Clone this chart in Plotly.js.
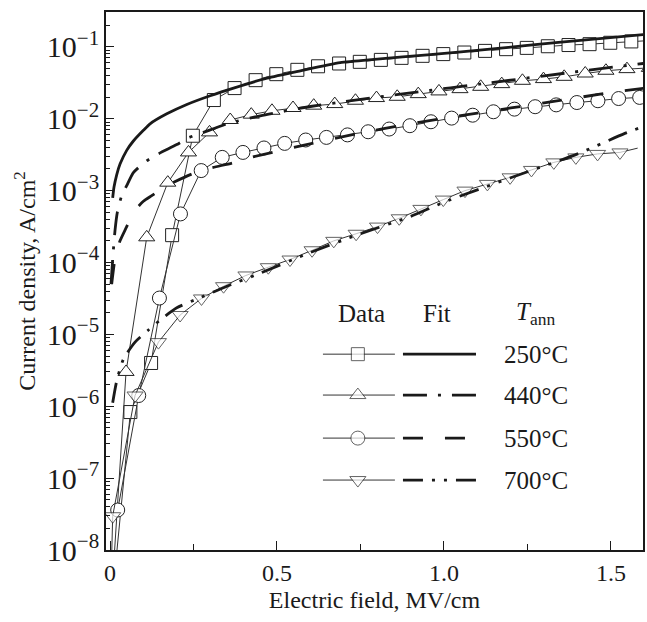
<!DOCTYPE html>
<html><head><meta charset="utf-8">
<script src="https://cdn.plot.ly/plotly-3.0.1.min.js"></script>
<style>body{margin:0;background:#fff}#chart{width:647px;height:622px}</style>
</head><body><div id="chart"></div>
<script>
// ---- data (E in MV/cm, J in A/cm^2) ----
const x250 = [0.0, 0.061, 0.123, 0.186, 0.248, 0.311, 0.373, 0.436, 0.498, 0.561, 0.623, 0.686, 0.748, 0.811, 0.873, 0.936, 0.998, 1.061, 1.123, 1.186, 1.248, 1.311, 1.373, 1.436, 1.498, 1.561, 1.623];
const j250 = [1e-9, 8.3e-7, 4.0e-6, 2.4e-4, 5.8e-3, 1.82e-2, 2.67e-2, 3.44e-2, 4.17e-2, 4.79e-2, 5.37e-2, 5.87e-2, 6.19e-2, 6.59e-2, 7.03e-2, 7.50e-2, 7.93e-2, 8.34e-2, 8.79e-2, 9.29e-2, 9.68e-2, 0.102, 0.106, 0.109, 0.114, 0.119, 0.123];

const x440 = [0.0, 0.048, 0.11, 0.173, 0.235, 0.298, 0.36, 0.423, 0.485, 0.548, 0.61, 0.673, 0.735, 0.798, 0.86, 0.923, 0.985, 1.048, 1.11, 1.173, 1.235, 1.298, 1.36, 1.423, 1.485, 1.548, 1.615];
const j440 = [1e-9, 3.0e-6, 2.24e-4, 1.29e-3, 3.40e-3, 6.46e-3, 9.6e-3, 1.14e-2, 1.29e-2, 1.41e-2, 1.52e-2, 1.60e-2, 1.78e-2, 1.94e-2, 2.02e-2, 2.20e-2, 2.40e-2, 2.58e-2, 2.78e-2, 3.03e-2, 3.37e-2, 3.56e-2, 3.83e-2, 4.26e-2, 4.65e-2, 4.90e-2, 5.1e-2];

const x550 = [0.023, 0.086, 0.148, 0.211, 0.273, 0.336, 0.398, 0.461, 0.523, 0.586, 0.648, 0.711, 0.773, 0.836, 0.898, 0.961, 1.023, 1.086, 1.148, 1.211, 1.273, 1.336, 1.398, 1.461, 1.523, 1.586];
const j550 = [3.6e-8, 1.41e-6, 3.2e-5, 4.74e-4, 1.90e-3, 2.90e-3, 3.40e-3, 3.92e-3, 4.54e-3, 5.06e-3, 5.50e-3, 5.96e-3, 6.59e-3, 7.19e-3, 8.0e-3, 9.08e-3, 1.02e-2, 1.12e-2, 1.25e-2, 1.36e-2, 1.47e-2, 1.56e-2, 1.68e-2, 1.78e-2, 1.91e-2, 1.98e-2];

const x700 = [0.0, 0.008, 0.075, 0.145, 0.21, 0.274, 0.34, 0.407, 0.474, 0.539, 0.605, 0.67, 0.737, 0.801, 0.866, 0.931, 0.998, 1.063, 1.13, 1.198, 1.262, 1.329, 1.395, 1.46, 1.527, 1.58];
const j700 = [1e-9, 2.95e-8, 1.41e-6, 7.8e-6, 1.86e-5, 3.16e-5, 4.68e-5, 6.6e-5, 8.6e-5, 1.10e-4, 1.48e-4, 2.0e-4, 2.51e-4, 3.16e-4, 4.12e-4, 5.57e-4, 7.5e-4, 1.0e-3, 1.24e-3, 1.53e-3, 1.94e-3, 2.47e-3, 2.90e-3, 3.24e-3, 3.40e-3, 3.9e-3];
// the last 700 °C reading continues the line only (no symbol drawn in the figure)
const n700Markers = 25;

// fits
const fx250 = [0.008, 0.012, 0.02, 0.03, 0.05, 0.07, 0.1, 0.12, 0.17, 0.23, 0.30, 0.37, 0.47, 0.57, 0.689, 0.8, 0.95, 1.138, 1.25, 1.4, 1.6];
const fj250 = [7.9e-4, 1.12e-3, 1.66e-3, 2.34e-3, 3.63e-3, 4.9e-3, 6.9e-3, 8.5e-3, 1.17e-2, 1.58e-2, 2.09e-2, 2.67e-2, 3.67e-2, 4.65e-2, 6.05e-2, 6.76e-2, 7.76e-2, 9.29e-2, 0.105, 0.122, 0.149];

const fx440 = [0.003, 0.008, 0.015, 0.022, 0.035, 0.05, 0.07, 0.105, 0.14, 0.2, 0.234, 0.28, 0.35, 0.45, 0.6, 0.689, 0.9, 1.138, 1.39, 1.6];
const fj440 = [5.0e-5, 1.12e-4, 2.8e-4, 5.0e-4, 8.5e-4, 1.17e-3, 1.78e-3, 2.5e-3, 3.16e-3, 4.37e-3, 5.4e-3, 6.46e-3, 8.5e-3, 1.10e-2, 1.48e-2, 1.70e-2, 2.29e-2, 3.16e-2, 4.47e-2, 5.9e-2];

const fx550 = [0.005, 0.015, 0.03, 0.05, 0.07, 0.1, 0.125, 0.17, 0.245, 0.29, 0.37, 0.42, 0.55, 0.739, 0.9, 1.1, 1.3, 1.522, 1.6];
const fj550 = [5.0e-5, 1.12e-4, 2.0e-4, 3.16e-4, 5.0e-4, 7.1e-4, 8.5e-4, 1.17e-3, 1.70e-3, 2.0e-3, 2.45e-3, 2.88e-3, 3.98e-3, 6.17e-3, 8.5e-3, 1.20e-2, 1.66e-2, 2.40e-2, 2.66e-2];

const fx700 = [0.008, 0.02, 0.04, 0.075, 0.115, 0.15, 0.2, 0.27, 0.35, 0.45, 0.6, 0.75, 0.9, 1.0, 1.2, 1.4, 1.54, 1.6];
const fj700 = [1.12e-6, 2.24e-6, 4.5e-6, 7.8e-6, 1.15e-5, 1.58e-5, 2.34e-5, 3.24e-5, 4.68e-5, 7.1e-5, 1.38e-4, 2.51e-4, 4.37e-4, 6.9e-4, 1.51e-3, 3.24e-3, 6.2e-3, 7.9e-3];

const tempLabels = ['250°C', '440°C', '550°C', '700°C'];
const xTickVals = [0, 0.5, 1.0, 1.5];
const xTickText = ['0', '0.5', '1.0', '1.5'];
const xMinorVals = [0.25, 0.75, 1.25];

// ---- styling ----
const FONT = 'Liberation Serif';
const INK = '#1a1a1a';
const symbols = ['square', 'triangle-up', 'circle', 'triangle-down'];
const markerSizes = [13, 14, 14, 14];
const dashes = ['solid', '24px,11px,3px,11px', '20px,22px', '20px,9px,3px,9px,3px,9px'];
const dataX = [x250, x440, x550, x700];
const dataY = [j250, j440, j550, j700];
const fitX = [fx250, fx440, fx550, fx700];
const fitY = [fj250, fj440, fj550, fj700];

const traces = [];
for (let i = 0; i < 4; i++) {
  let size = markerSizes[i];
  if (i === 3) size = x700.map((_, k) => (k < n700Markers ? markerSizes[i] : 0));
  traces.push({
    x: dataX[i], y: dataY[i], type: 'scatter', mode: 'lines+markers',
    line: {color: '#333', width: 1},
    marker: {symbol: symbols[i], size: size, color: '#fff', line: {color: '#222', width: 1}},
    showlegend: false, hoverinfo: 'skip'
  });
}
for (let i = 0; i < 4; i++) {
  traces.push({
    x: fitX[i], y: fitY[i], type: 'scatter', mode: 'lines',
    line: {color: INK, width: 2.8, dash: dashes[i], shape: 'spline', smoothing: 0.6},
    showlegend: false, hoverinfo: 'skip'
  });
}

// ---- custom legend (paper-like overlay axes) ----
const leg = {rows: [0.364, 0.288, 0.208, 0.130], header: 0.4405,
  dataX0: 0.404, dataX1: 0.538, dataMid: 0.469, fitX0: 0.553, fitX1: 0.689, labelX: 0.737};
const annotations = [];
const legFont = {family: FONT, size: 25, color: INK};
for (let i = 0; i < 4; i++) {
  const yy = leg.rows[i];
  traces.push({
    x: [leg.dataX0, leg.dataMid, leg.dataX1], y: [yy, yy, yy], xaxis: 'x2', yaxis: 'y2',
    type: 'scatter', mode: 'lines+markers',
    line: {color: '#333', width: 1},
    marker: {symbol: symbols[i], size: [0, markerSizes[i], 0], color: '#fff', line: {color: '#222', width: 1}},
    showlegend: false, hoverinfo: 'skip', cliponaxis: false
  });
  traces.push({
    x: [leg.fitX0, leg.fitX1], y: [yy, yy], xaxis: 'x2', yaxis: 'y2',
    type: 'scatter', mode: 'lines',
    line: {color: INK, width: 2.8, dash: dashes[i]},
    showlegend: false, hoverinfo: 'skip', cliponaxis: false
  });
  annotations.push({xref: 'paper', yref: 'paper', x: leg.labelX, y: yy, xanchor: 'left', yanchor: 'middle',
    text: tempLabels[i], showarrow: false, font: legFont});
}
annotations.push({xref: 'paper', yref: 'paper', x: 0.475, y: leg.header, xanchor: 'center', yanchor: 'middle',
  text: 'Data', showarrow: false, font: legFont});
annotations.push({xref: 'paper', yref: 'paper', x: 0.616, y: leg.header, xanchor: 'center', yanchor: 'middle',
  text: 'Fit', showarrow: false, font: legFont});
annotations.push({xref: 'paper', yref: 'paper', x: 0.799, y: leg.header, xanchor: 'center', yanchor: 'middle',
  text: '<i>T</i><sub>ann</sub>', showarrow: false, font: legFont});

const layout = {
  width: 647, height: 622,
  margin: {l: 106, r: 4, t: 12, b: 72},
  paper_bgcolor: '#fff', plot_bgcolor: '#fff',
  font: {family: FONT, size: 24, color: INK},
  xaxis: {
    range: [-0.012, 1.596], showgrid: false, zeroline: false,
    tickmode: 'array', tickvals: xTickVals, ticktext: xTickText,
    ticks: 'inside', ticklen: 9, tickwidth: 1.2, tickcolor: INK,
    minor: {tickmode: 'array', tickvals: xMinorVals, ticks: 'inside', ticklen: 6, tickwidth: 1.2, tickcolor: INK},
    showline: true, linewidth: 2, linecolor: INK, mirror: true,
    tickfont: {family: FONT, size: 24, color: INK},
    title: {text: 'Electric field, MV/cm', font: {family: FONT, size: 24, color: INK}, standoff: 6}
  },
  yaxis: {
    type: 'log', range: [-8, -0.515], showgrid: false, zeroline: false,
    dtick: 1, exponentformat: 'power',
    ticks: 'inside', ticklen: 8, tickwidth: 1.2, tickcolor: INK,
    minor: {dtick: 'D1', ticks: 'inside', ticklen: 4, tickwidth: 1, tickcolor: INK},
    showline: true, linewidth: 2, linecolor: INK, mirror: true,
    tickfont: {family: FONT, size: 24, color: INK},
    title: {text: 'Current density, A/cm<sup>2</sup>', font: {family: FONT, size: 24, color: INK}, standoff: 4}
  },
  xaxis2: {overlaying: 'x', range: [0, 1], visible: false, fixedrange: true},
  yaxis2: {overlaying: 'y', range: [0, 1], visible: false, fixedrange: true},
  annotations: annotations,
  showlegend: false
};

Plotly.newPlot('chart', traces, layout, {displayModeBar: false});
</script>
</body></html>
